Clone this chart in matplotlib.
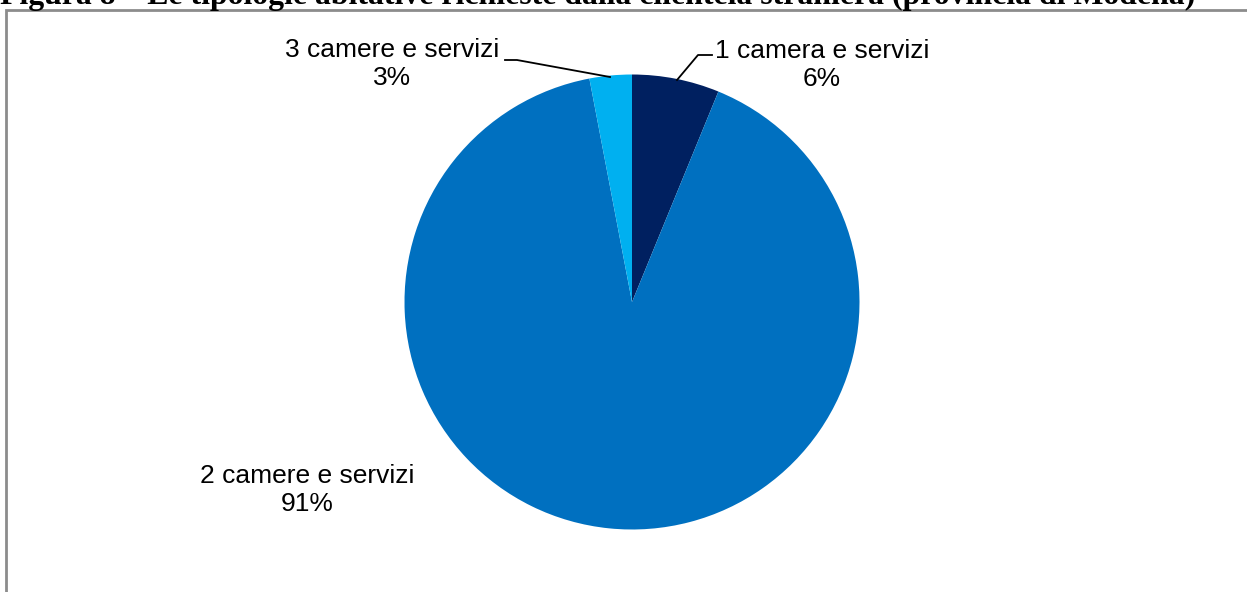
import matplotlib.pyplot as plt
from matplotlib.patches import Rectangle

# dati
tipologie = ['1 camera e servizi', '2 camere e servizi', '3 camere e servizi']
quote = [6.2, 90.8, 3.0]
etichette_pct = ['6%', '91%', '3%']
colori = ['#002060', '#0070C0', '#00B0F0']

W, H = 1247, 592
fig = plt.figure(figsize=(W / 100, H / 100), dpi=100)
ax = fig.add_axes([0, 0, 1, 1])

# cornice del grafico (tagliata a destra e in basso)
ax.add_patch(Rectangle((6, -20), W + 20, H - 10 + 20, fill=False,
                       edgecolor='#8c8c8c', linewidth=2))

# titolo, tagliato in alto come nell'originale
titolo = 'Figura 8 – Le tipologie abitative richieste dalla clientela straniera (provincia di Modena)'
ax.text(0, H - 4, titolo, ha='left', va='baseline', fontsize=22.9,
        fontweight='bold', family='Liberation Serif', clip_on=False)

# torta
cx, cy, r = 632, H - 302, 227.5
ax.pie(quote, colors=colori, startangle=90, counterclock=False,
       center=(cx, cy), radius=r, frame=True,
       wedgeprops=dict(linewidth=0))
ax.set_xlim(0, W)
ax.set_ylim(0, H)
ax.set_aspect('equal')
ax.axis('off')

font = dict(family='Liberation Sans', fontsize=19, linespacing=1.2,
            ha='center', va='center', color='black')

# etichette
ax.text(822, H - 65, tipologie[0] + '\n' + etichette_pct[0], **font)
ax.text(392, H - 64, tipologie[2] + '\n' + etichette_pct[2], **font)
ax.text(307, H - 490, tipologie[1] + '\n' + etichette_pct[1], **font)

# linee guida
ax.plot([677, 698, 712], [H - 80, H - 55, H - 55], color='black', lw=1.3)
ax.plot([610, 517, 505], [H - 77, H - 60, H - 60], color='black', lw=1.3)

fig.savefig('out.png', dpi=100)
